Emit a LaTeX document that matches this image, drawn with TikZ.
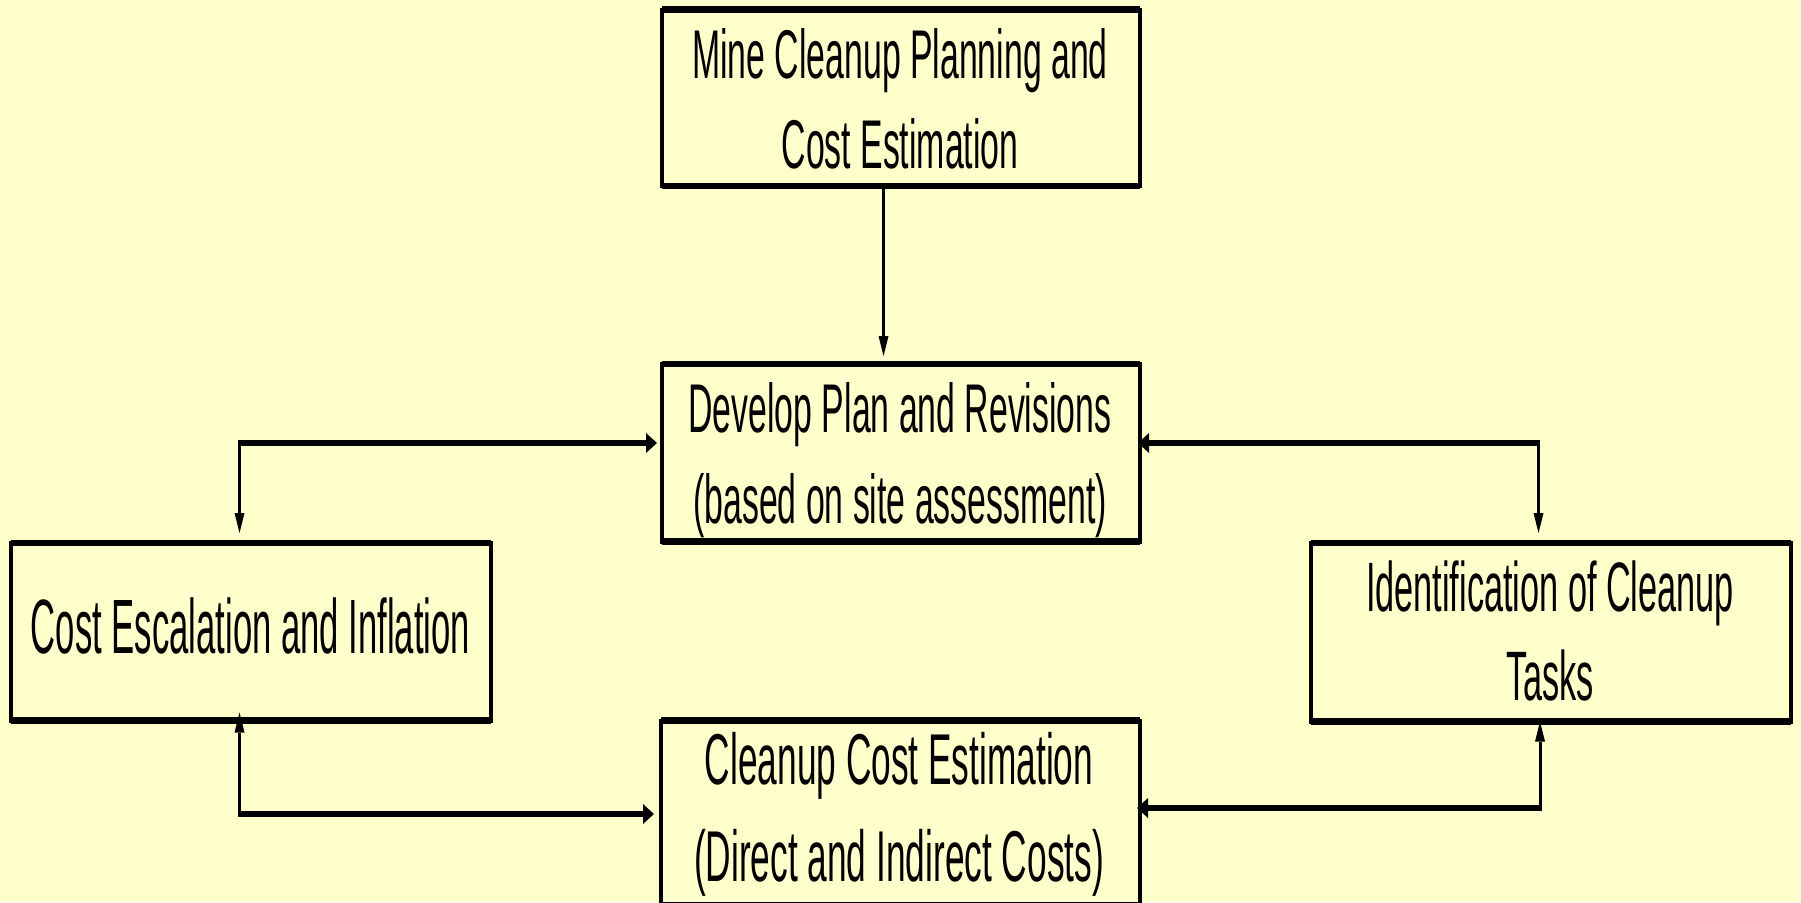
\documentclass[tikz,border=0pt]{standalone}
\usepackage{fontspec}
\newfontfamily\narrowfont[FakeStretch=0.49]{Liberation Sans}
\newfontfamily\narrowerfont[FakeStretch=0.45]{Liberation Sans}
\usetikzlibrary{arrows.meta,calc}
\definecolor{paper}{HTML}{FFFFCC}
\tikzset{
  stepbox/.style={draw=black, line width=4pt, fill=paper, inner sep=0pt, outer sep=0pt},
  boxrim/.style={line width=6.5pt},
  boxtext/.style={inner sep=0pt, align=center, text=black},
  hlink/.style={line width=6pt, -{Triangle[length=11pt,width=20pt,line width=0pt]}},
  vlink/.style={line width=3pt, -{Triangle[length=20pt,width=10pt,line width=0pt]}},
}
\begin{document}
\begin{tikzpicture}[x=1pt,y=-1pt]
% page
\fill[paper] (0,0) rectangle (1801,902);
\useasboundingbox (0,0) rectangle (1801,902);

% boxes
\node[stepbox, minimum width=478pt, minimum height=176.5pt] (mine)  at (900.5,97.75) {};
\node[stepbox, minimum width=478pt, minimum height=177.5pt] (plan)  at (900.5,452.75) {};
\node[stepbox, minimum width=480pt, minimum height=177.5pt] (escal) at (250.5,631.75) {};
\node[stepbox, minimum width=480pt, minimum height=178.5pt] (tasks) at (1551,632.25) {};
\node[stepbox, minimum width=479pt, minimum height=185pt]   (cost)  at (900.5,813) {};

% heavier top and bottom rules of every box
\foreach \b in {mine,plan,escal,tasks,cost}
  \draw[boxrim] (\b.north west) -- (\b.north east) (\b.south west) -- (\b.south east);

% box texts
\node[boxtext, font=\narrowfont\fontsize{69}{90}\selectfont] (mineText)
  at ($(mine.center)+(-0.5,1)$) {Mine Cleanup Planning and\\Cost Estimation};
\node[boxtext, font=\narrowfont\fontsize{69}{91}\selectfont] (planText)
  at ($(plan.center)+(-0.5,7)$) {Develop Plan and Revisions\\(based on site assessment)};
\node[boxtext, font=\narrowerfont\fontsize{77}{90}\selectfont] (escalText)
  at ($(escal.center)+(0,-5.5)$) {Cost Escalation and Inflation};
\node[boxtext, font=\narrowfont\fontsize{70}{89}\selectfont] (tasksText)
  at ($(tasks.center)+(-1,-1)$) {Identification of Cleanup\\Tasks};
\node[boxtext, font=\narrowfont\fontsize{72}{97}\selectfont] (costText)
  at ($(cost.center)+(-1.5,1.5)$) {Cleanup Cost Estimation\\(Direct and Indirect Costs)};

% corner points of the elbow connectors
\coordinate (cUL) at (239.5,443);
\coordinate (cLL) at (239.5,814);
\coordinate (cUR) at (1538.5,443);
\coordinate (cLR) at (1540,808);

% connectors
\draw[vlink, shorten >=8pt] ($(mine.south)+(-17,0)$) -- ($(plan.north)+(-17,0)$);

\draw[hlink, shorten >=4.5pt] (cUL) -- (cUL -| plan.west);
\draw[vlink, shorten >=10pt, shorten <=-3pt] (cUL) -- (cUL |- escal.north);

\draw[hlink, shorten >=7pt] (cLL) -- (cLL -| cost.west);
\draw[vlink, shorten >=-8pt, shorten <=-3pt] (cLL) -- (cLL |- escal.south);

\draw[hlink, shorten >=-1.5pt] (cUR) -- (cUR -| plan.east);
\draw[vlink, shorten >=10pt, shorten <=-3pt] (cUR) -- (cUR |- tasks.north);

\draw[hlink, shorten >=-3pt] (cLR) -- (cLR -| cost.east);
\draw[vlink, shorten <=-3pt] (cLR) -- (cLR |- tasks.south);
\end{tikzpicture}
\end{document}
